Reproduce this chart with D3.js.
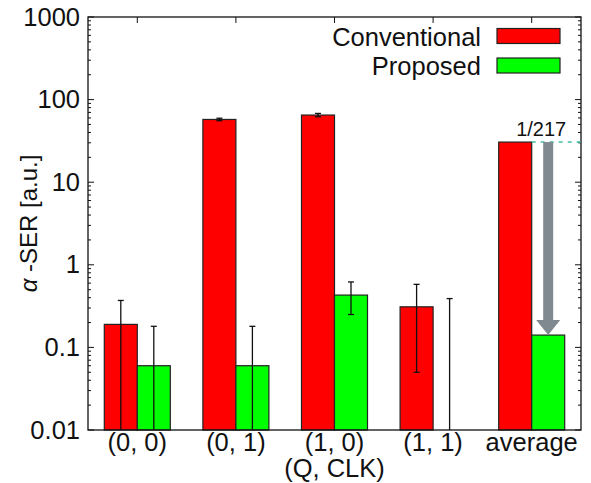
<!DOCTYPE html>
<html>
<head>
<meta charset="utf-8">
<script src="https://cdn.jsdelivr.net/npm/d3@7"></script>
<style>
  body { margin: 0; background: #fff; }
  text { font-family: "Liberation Sans", Arial, sans-serif; fill: #111; }
</style>
</head>
<body>
<div id="chart"></div>
<script>
var categories = ["(0, 0)", "(0, 1)", "(1, 0)", "(1, 1)", "average"];
var seriesNames = ["Conventional", "Proposed"];
var seriesColors = ["rgb(255,0,0)", "rgb(0,255,0)"];

// bar heights and error bar bounds (lows below 0.01 run off the axis)
var conventional = [0.19, 57.5, 65, 0.31, 30.6];
var convLow = [0.001, 55.5, 62, 0.05, 30.6];
var convHigh = [0.37, 59.5, 68, 0.58, 30.6];
var proposed = [0.06, 0.06, 0.43, 0.001, 0.141];
var propLow = [0.001, 0.001, 0.25, 0.001, 0.141];
var propHigh = [0.18, 0.18, 0.62, 0.39, 0.141];

var yTicks = [0.01, 0.1, 1, 10, 100, 1000];
var ratioLabel = "1/217";

var width = 591, height = 483;
var margin = {top: 17, right: 10, bottom: 53, left: 88};
var fs = "25.5px";

var svg = d3.select("#chart").append("svg")
    .attr("width", width).attr("height", height);

var x = d3.scaleBand().domain(categories)
    .range([margin.left, width - margin.right]).padding(0);
var y = d3.scaleLog().domain([0.01, 1000])
    .range([height - margin.bottom, margin.top]).clamp(true);

var barW = 33;
var series = [
  {vals: conventional, lo: convLow, hi: convHigh, off: -barW},
  {vals: proposed, lo: propLow, hi: propHigh, off: 0}
];

var y0 = y(0.01);

series.forEach(function(s, si) {
  categories.forEach(function(c, i) {
    var cx = x(c) + x.bandwidth() / 2 + s.off;
    var top = y(s.vals[i]);
    svg.append("rect")
      .attr("x", cx).attr("y", top)
      .attr("width", barW).attr("height", y0 - top)
      .attr("fill", seriesColors[si])
      .attr("stroke", "#222").attr("stroke-width", 1.2);
  });
});

// error bars
series.forEach(function(s, si) {
  categories.forEach(function(c, i) {
    if (s.lo[i] === s.hi[i]) return;
    var cx = x(c) + x.bandwidth() / 2 + s.off + barW / 2;
    var yl = y(s.lo[i]), yh = y(s.hi[i]);
    svg.append("line").attr("x1", cx).attr("x2", cx)
      .attr("y1", yl).attr("y2", yh)
      .attr("stroke", "#111").attr("stroke-width", 1.3);
    svg.append("line").attr("x1", cx - 3).attr("x2", cx + 3)
      .attr("y1", yh).attr("y2", yh)
      .attr("stroke", "#111").attr("stroke-width", 1.3);
    if (s.lo[i] >= 0.01) {
      svg.append("line").attr("x1", cx - 3).attr("x2", cx + 3)
        .attr("y1", yl).attr("y2", yl)
        .attr("stroke", "#111").attr("stroke-width", 1.3);
    }
  });
});

// frame
var L = margin.left, R = width - margin.right, T = margin.top, B = height - margin.bottom;
svg.append("rect").attr("x", L).attr("y", T).attr("width", R - L).attr("height", B - T)
  .attr("fill", "none").attr("stroke", "#111").attr("stroke-width", 1.3);

// log ticks on left and right, pointing inwards
var minorTicks = [];
for (var d = 0.01; d < 1000; d *= 10) {
  for (var k = 2; k <= 9; k++) minorTicks.push(d * k);
}
var tickG = svg.append("g").attr("stroke", "#111").attr("stroke-width", 1);
yTicks.forEach(function(t) {
  tickG.append("line").attr("x1", L).attr("x2", L + 6).attr("y1", y(t)).attr("y2", y(t));
  tickG.append("line").attr("x1", R).attr("x2", R - 6).attr("y1", y(t)).attr("y2", y(t));
});
minorTicks.forEach(function(t) {
  tickG.append("line").attr("x1", L).attr("x2", L + 3).attr("y1", y(t)).attr("y2", y(t));
  tickG.append("line").attr("x1", R).attr("x2", R - 3).attr("y1", y(t)).attr("y2", y(t));
});
categories.forEach(function(c) {
  var cx = x(c) + x.bandwidth() / 2;
  tickG.append("line").attr("x1", cx).attr("x2", cx).attr("y1", T).attr("y2", T + 6);
});

// tick labels
yTicks.forEach(function(t) {
  svg.append("text").attr("x", L - 8).attr("y", y(t)).attr("dy", "0.34em")
    .attr("text-anchor", "end").attr("font-size", fs)
    .text(d3.format("~g")(t));
});
categories.forEach(function(c) {
  svg.append("text").attr("x", x(c) + x.bandwidth() / 2).attr("y", 451)
    .attr("text-anchor", "middle").attr("font-size", fs).text(c);
});
svg.append("text").attr("x", (L + R) / 2).attr("y", 477)
  .attr("text-anchor", "middle").attr("font-size", fs).text("(Q, CLK)");

// y label
var yl = svg.append("text")
  .attr("transform", "translate(37," + ((T + B) / 2) + ") rotate(-90)")
  .attr("text-anchor", "middle").attr("font-size", "24px");
yl.append("tspan").attr("font-style", "italic").text("α");
yl.append("tspan").text(" -SER [a.u.]");

// legend
seriesNames.forEach(function(n, i) {
  var ly = 28.5 + i * 29.5;
  svg.append("rect").attr("x", 497).attr("y", ly).attr("width", 63).attr("height", 15)
    .attr("fill", seriesColors[i]).attr("stroke", "#222").attr("stroke-width", 1.2);
  svg.append("text").attr("x", 481).attr("y", ly + 17).attr("text-anchor", "end")
    .attr("font-size", fs).text(n);
});

// reduction annotation on the average group
var avg = categories[categories.length - 1];
var avgC = conventional[conventional.length - 1];
var avgP = proposed[proposed.length - 1];
var ax = x(avg) + x.bandwidth() / 2 + barW / 2;
svg.append("line")
  .attr("x1", x(avg) + x.bandwidth() / 2).attr("x2", R)
  .attr("y1", y(avgC)).attr("y2", y(avgC))
  .attr("stroke", "rgb(64,190,160)").attr("stroke-width", 1.5)
  .attr("stroke-dasharray", "4,5");
var headH = 15;
svg.append("rect").attr("x", ax - 5).attr("y", y(avgC))
  .attr("width", 10).attr("height", y(avgP) - headH - y(avgC))
  .attr("fill", "rgb(128,136,144)");
svg.append("path")
  .attr("d", "M" + (ax - 12) + "," + (y(avgP) - headH) + "L" + (ax + 12) + "," + (y(avgP) - headH) +
    "L" + ax + "," + y(avgP) + "Z")
  .attr("fill", "rgb(128,136,144)");
svg.append("text").attr("x", ax - 7).attr("y", 136).attr("text-anchor", "middle")
  .attr("font-size", "20px").text(ratioLabel);
</script>
</body>
</html>
